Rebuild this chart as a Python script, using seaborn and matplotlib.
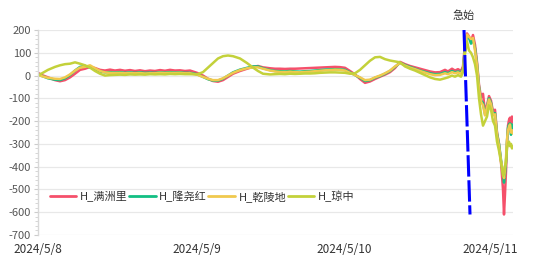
import matplotlib
matplotlib.use("Agg")
import matplotlib.pyplot as plt
import seaborn as sns
import pandas as pd
import numpy as np
from matplotlib.ticker import MultipleLocator, FuncFormatter

# ---- data (time step index) ----
t = [0, 4, 10, 17, 22, 27, 32, 37, 42, 47,
     52, 57, 62, 67, 72, 77, 82, 87, 92, 97,
     102, 107, 112, 117, 122, 127, 132, 137, 142, 147,
     152, 159, 165, 170, 175, 180, 185, 190, 195, 202,
     209, 215, 220, 225, 232, 237, 242, 247, 252, 257,
     262, 267, 272, 277, 282, 287, 292, 297, 302, 307,
     312, 317, 322, 327, 332, 337, 342, 347, 352, 357,
     362, 367, 372, 377, 382, 387, 392, 397, 402, 407,
     410, 414, 417, 420, 423, 425, 427, 429, 431, 433,
     435, 437, 439, 441, 443, 445, 447, 449, 451, 453,
     455, 457, 459, 461, 463, 465, 466, 467, 468, 469,
     470, 471, 472, 473, 474, 475]

manzhouli = [12, 2, -8, -20, -25, -20, -8, 8, 25, 30,
             38, 33, 25, 22, 26, 22, 25, 21, 24, 20,
             23, 19, 22, 20, 24, 21, 25, 22, 23, 20,
             22, 12, 0, -14, -24, -27, -20, -6, 8, 20,
             30, 38, 42, 36, 32, 30, 30, 29, 30, 30,
             31, 32, 33, 34, 35, 36, 37, 38, 37, 34,
             20, 5, -15, -32, -26, -15, -5, 4, 15, 33,
             60, 50, 42, 36, 30, 24, 18, 14, 15, 25,
             18, 30, 22, 28, 20, 40, 140, 185, 172, 150,
             178, 135, 60, -40, -95, -80, -160, -130, -90, -110,
             -160, -150, -250, -300, -380, -500, -610, -520, -420, -300,
             -220, -195, -185, -250, -180, -200]

longyaohong = [5, -2, -12, -18, -20, -12, 2, 22, 38, 42,
               36, 28, 18, 14, 15, 13, 15, 12, 14, 12,
               14, 12, 13, 12, 14, 13, 15, 13, 14, 12,
               12, 6, -6, -16, -22, -22, -14, 0, 14, 26,
               34, 40, 40, 32, 24, 20, 19, 18, 20, 18,
               17, 19, 20, 22, 24, 26, 27, 28, 27, 25,
               14, 2, -10, -24, -20, -10, -2, 8, 20, 38,
               56, 46, 38, 30, 22, 16, 10, 6, 7, 15,
               10, 20, 14, 18, 12, 30, 125, 175, 165, 140,
               160, 120, 50, -50, -110, -120, -170, -140, -100, -120,
               -170, -165, -255, -300, -370, -430, -470, -430, -380, -290,
               -230, -215, -210, -260, -215, -230]

qianlingdi = [3, -3, -10, -14, -15, -8, 5, 22, 35, 38,
              45, 32, 20, 14, 12, 11, 12, 10, 11, 10,
              11, 9, 10, 10, 12, 11, 12, 11, 12, 10,
              10, 4, -6, -14, -20, -20, -12, 0, 12, 24,
              32, 36, 36, 30, 22, 18, 16, 15, 17, 15,
              14, 16, 17, 19, 21, 23, 24, 26, 25, 22,
              12, 2, -8, -20, -18, -8, 0, 10, 22, 40,
              55, 44, 35, 28, 20, 13, 6, 2, 3, 10,
              6, 15, 10, 14, 8, 25, 120, 180, 170, 160,
              165, 110, 45, -55, -115, -130, -175, -140, -105, -125,
              -175, -170, -260, -310, -375, -420, -450, -410, -360, -280,
              -240, -225, -215, -250, -240, -255]

qiongzhong = [0, 10, 25, 38, 45, 50, 52, 58, 52, 45,
              35, 20, 8, 0, 2, 3, 4, 3, 5, 4,
              5, 4, 6, 5, 6, 5, 7, 6, 7, 6,
              6, 5, 15, 35, 55, 75, 85, 88, 85, 75,
              55, 35, 20, 8, 5, 6, 7, 6, 8, 7,
              8, 9, 9, 10, 12, 13, 14, 14, 13, 12,
              8, 10, 25, 45, 65, 80, 82, 72, 66, 62,
              58, 40, 30, 22, 12, 2, -8, -15, -18, -12,
              -8, 0, -5, 2, -5, 15, 95, 150, 110, 100,
              80, 50, 0, -100, -170, -220, -200, -180, -130, -150,
              -200, -220, -290, -330, -380, -440, -430, -400, -380, -320,
              -300, -290, -310, -300, -320, -310]

series_names = ["H_满洲里", "H_隆尧红", "H_乾陵地", "H_琼中"]
series_colors = ["#f5506b", "#12bf83", "#f0c94e", "#c3d13a"]

tick_pos = [0, 159, 306, 452]
tick_labels = ["2024/5/8", "2024/5/9", "2024/5/10", "2024/5/11"]

event_x = [426, 432]
event_y = [200, -610]
event_label = "急始"

# ---- build long table ----
frames = []
for name, vals in zip(series_names, [manzhouli, longyaohong, qianlingdi, qiongzhong]):
    frames.append(pd.DataFrame({"t": t, "value": vals, "station": name}))
df = pd.concat(frames, ignore_index=True)

sns.set_theme(style="white")
plt.rcParams["font.family"] = ["Noto Sans CJK SC", "DejaVu Sans"]

fig = plt.figure(figsize=(5.37, 2.71), dpi=100)
ax = fig.add_axes([38 / 537, 1 - 235 / 271, 475 / 537, 205 / 271])

sns.lineplot(data=df, x="t", y="value", hue="station", hue_order=series_names,
             palette=series_colors, estimator=None, sort=False, linewidth=1.8,
             ax=ax, legend=True)

ax.plot(event_x, event_y, color="#0000ff", lw=2.2, dashes=(7, 1.2), zorder=5)
ax.text(event_x[0], 262, event_label, ha="center", va="center", fontsize=8,
        color="#333333", clip_on=False)

ax.set_xlim(0, 475)
ax.set_ylim(-700, 200)
ax.yaxis.set_major_locator(MultipleLocator(100))
ax.yaxis.set_minor_locator(MultipleLocator(20))
ax.yaxis.set_major_formatter(FuncFormatter(lambda v, p: f"{int(round(v))}"))
ax.grid(axis="y", color="#e8e8e8", lw=0.9)
ax.set_axisbelow(True)

ax.set_xticks(tick_pos)
ax.set_xticklabels(tick_labels)
ax.set_xlabel("")
ax.set_ylabel("")
ax.tick_params(axis="x", length=0, pad=6, labelsize=8.5, labelcolor="#333333")
ax.tick_params(axis="y", which="major", length=3, width=0.8, color="#cccccc",
               pad=2, labelsize=8, labelcolor="#555555", left=True)
ax.tick_params(axis="y", which="minor", length=2, width=0.6, color="#d0d0d0", left=True)

for side in ["top", "right", "bottom"]:
    ax.spines[side].set_visible(False)
ax.spines["left"].set_color("#d8d8d8")
ax.spines["left"].set_linewidth(1.0)

leg = ax.legend(title=None, loc="center left", bbox_to_anchor=(0.015, 0.19),
                ncol=4, frameon=False, fontsize=8, handlelength=2.4,
                handletextpad=0.3, columnspacing=0.15, borderaxespad=0)
for txt in leg.get_texts():
    txt.set_color("#333333")
for line in leg.get_lines():
    line.set_linewidth(2.0)

fig.savefig("out.png", dpi=100)
